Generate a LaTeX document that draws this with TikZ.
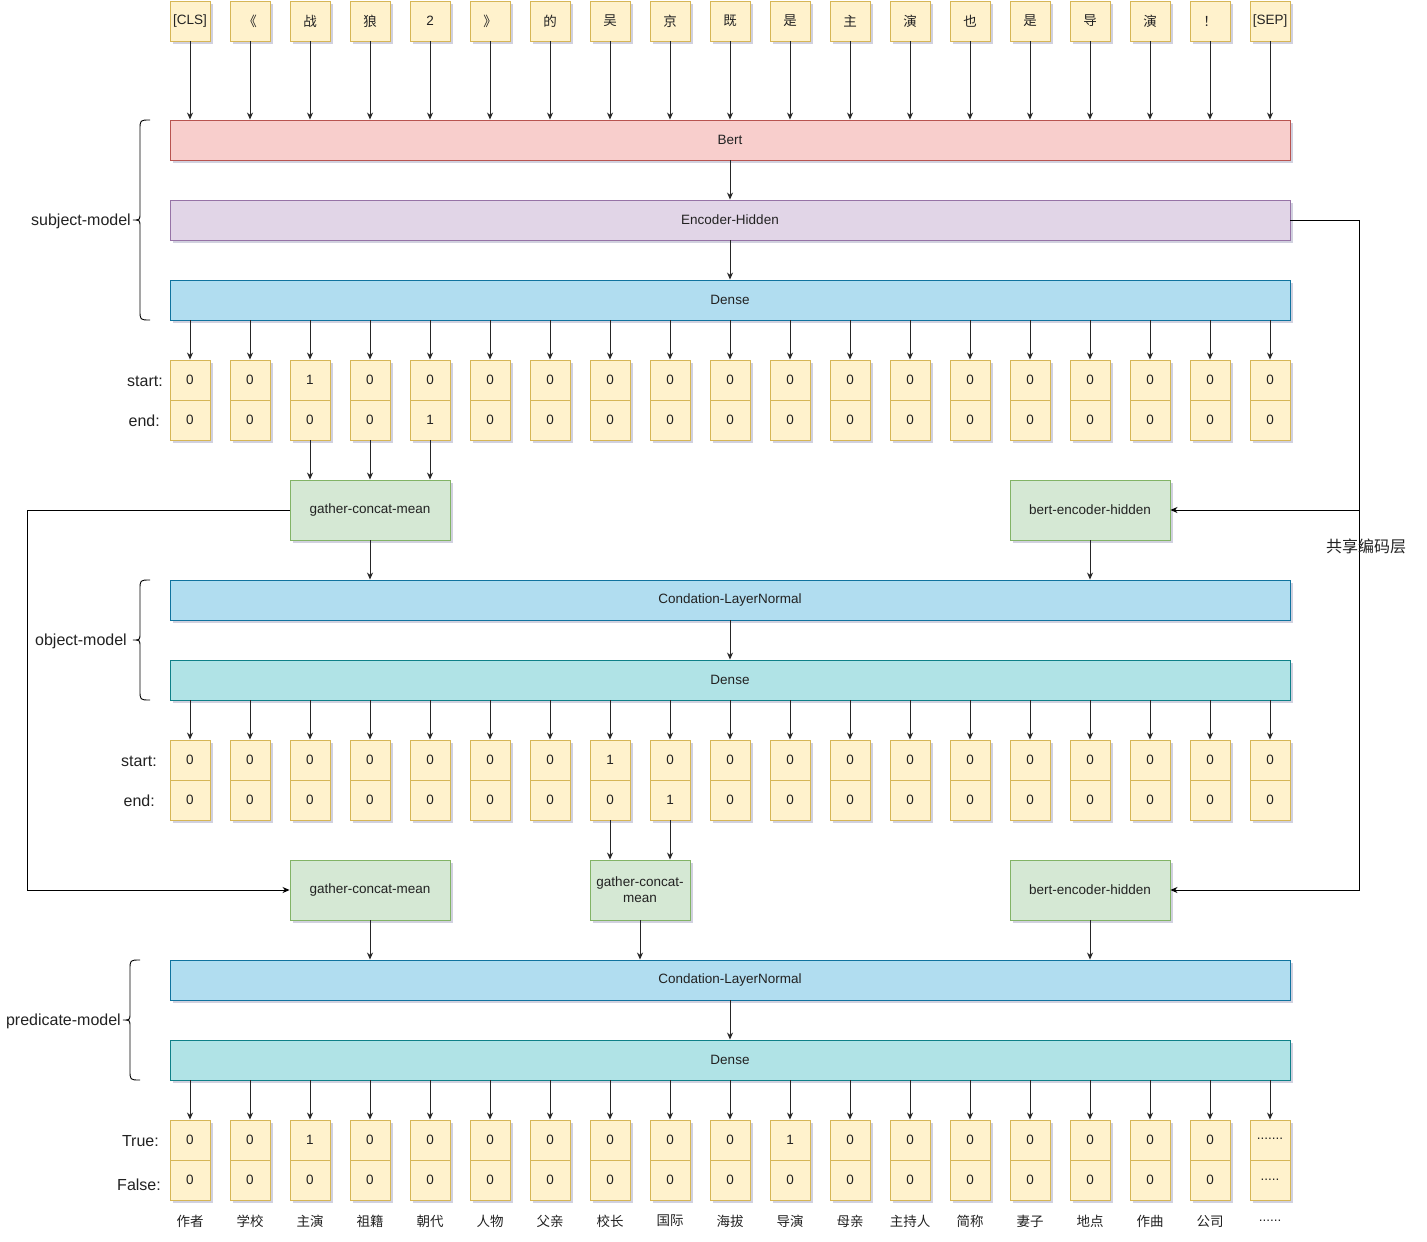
\documentclass[tikz,border=0pt]{standalone}
\usepackage{fontspec}
\setmainfont{Liberation Sans}
\newfontfamily\cjk{Noto Sans CJK SC}
\usetikzlibrary{arrows.meta,shadows}
\definecolor{yfill}{HTML}{FFF2CC}
\definecolor{ystroke}{HTML}{D6B656}
\definecolor{rfill}{HTML}{F8CECC}
\definecolor{rstroke}{HTML}{B85450}
\definecolor{pfill}{HTML}{E1D5E7}
\definecolor{pstroke}{HTML}{9673A6}
\definecolor{bfill}{HTML}{B1DDF0}
\definecolor{bstroke}{HTML}{10739E}
\definecolor{tfill}{HTML}{B0E3E6}
\definecolor{tstroke}{HTML}{0E8088}
\definecolor{gfill}{HTML}{D5E8D4}
\definecolor{gstroke}{HTML}{82B366}
\definecolor{txt}{HTML}{222222}
\tikzset{
  shad/.style={drop shadow={shadow xshift=2.5pt, shadow yshift=-2.5pt, opacity=0.18, fill=black!70!blue}},
  cellbox/.style={draw=ystroke, fill=yfill, line width=0.9pt, minimum width=40pt, minimum height=40pt, inner sep=0pt, shad},
  widebox/.style={line width=0.9pt, minimum width=1120pt, minimum height=40pt, inner sep=0pt, shad},
  greenbox/.style={draw=gstroke, fill=gfill, line width=0.9pt, minimum width=160pt, minimum height=60pt, inner sep=0pt, align=center, shad},
  arr/.style={-{Stealth[length=7pt,width=6pt]}, line width=0.9pt, draw=black!85},
  conn/.style={line width=0.9pt, draw=black},
  lbl/.style={anchor=east, inner sep=0pt, text=txt, font=\fontsize{16}{19}\selectfont},
  plain/.style={inner sep=0pt, text=txt},
}
\begin{document}
\begin{tikzpicture}[x=1pt,y=-1pt, font=\fontsize{13.5}{16}\selectfont, text=txt]
\useasboundingbox (0,0) rectangle (1427,1242);

% tokens
\foreach \t [count=\i] in {{[CLS]},{\cjk 《},{\cjk 战},{\cjk 狼},{2},{\cjk 》},{\cjk 的},{\cjk 吴},{\cjk 京},{\cjk 既},{\cjk 是},{\cjk 主},{\cjk 演},{\cjk 也},{\cjk 是},{\cjk 导},{\cjk 演},{\cjk ！},{[SEP]}}
  \node[cellbox] (t\i) at ({130+60*\i},21) {\t};

% wide layers
\node[widebox, draw=rstroke, fill=rfill] (bert) at (730,140) {Bert};
\node[widebox, draw=pstroke, fill=pfill] (enc) at (730,220) {Encoder-Hidden};
\node[widebox, draw=bstroke, fill=bfill] (dense1) at (730,300) {Dense};
\node[widebox, draw=bstroke, fill=bfill] (cln1) at (730,600) {Condation-LayerNormal};
\node[widebox, draw=tstroke, fill=tfill] (dense2) at (730,680) {Dense};
\node[widebox, draw=bstroke, fill=bfill] (cln2) at (730,980) {Condation-LayerNormal};
\node[widebox, draw=tstroke, fill=tfill] (dense3) at (730,1060) {Dense};

\foreach \i in {1,...,19} \draw[arr] (t\i) -- (t\i |- bert.north);
\draw[arr] (bert) -- (enc);
\draw[arr] (enc) -- (dense1);

% subject start/end
\foreach \s/\e [count=\i] in {0/0,0/0,1/0,0/0,0/1,0/0,0/0,0/0,0/0,0/0,0/0,0/0,0/0,0/0,0/0,0/0,0/0,0/0,0/0}{
  \node[cellbox] (sa\i) at ({130+60*\i},380) {\s};
  \node[cellbox] (ea\i) at ({130+60*\i},420) {\e};
  \draw[arr] (sa\i |- dense1.south) -- (sa\i.north);
}
\node[lbl] (lsa) at (163,381) {start:};
\node[lbl] (lea) at (160,421) {end:};

% green boxes row 1
\node[greenbox] (g1) at (370,510) {gather-concat-mean};
\node[greenbox] (beh1) at (1090,510) {bert-encoder-hidden};
\foreach \i in {3,4,5} \draw[arr] (ea\i) -- (ea\i |- g1.north);
\draw[arr] (g1) -- (g1 |- cln1.north);
\draw[arr] (beh1) -- (beh1 |- cln1.north);
\draw[arr] (cln1) -- (dense2);

% object start/end
\foreach \s/\e [count=\i] in {0/0,0/0,0/0,0/0,0/0,0/0,0/0,1/0,0/1,0/0,0/0,0/0,0/0,0/0,0/0,0/0,0/0,0/0,0/0}{
  \node[cellbox] (sb\i) at ({130+60*\i},760) {\s};
  \node[cellbox] (eb\i) at ({130+60*\i},800) {\e};
  \draw[arr] (sb\i |- dense2.south) -- (sb\i.north);
}
\node[lbl] (lsb) at (157,761) {start:};
\node[lbl] (leb) at (155,801) {end:};

% green boxes row 2
\node[greenbox] (g2) at (370,890) {gather-concat-mean};
\node[greenbox, minimum width=100pt] (g3) at (640,890) {gather-concat-\\mean};
\node[greenbox] (beh2) at (1090,890) {bert-encoder-hidden};
\draw[arr] (eb8) -- (eb8 |- g3.north);
\draw[arr] (eb9) -- (eb9 |- g3.north);
\draw[arr] (g2) -- (g2 |- cln2.north);
\draw[arr] (g3) -- (g3 |- cln2.north);
\draw[arr] (beh2) -- (beh2 |- cln2.north);
\draw[arr] (cln2) -- (dense3);

% predicate true/false
\foreach \s/\e/\n [count=\i] in {0/0/作者,0/0/学校,1/0/主演,0/0/祖籍,0/0/朝代,0/0/人物,0/0/父亲,0/0/校长,0/0/国际,0/0/海拔,1/0/导演,0/0/母亲,0/0/主持人,0/0/简称,0/0/妻子,0/0/地点,0/0/作曲,0/0/公司}{
  \node[cellbox] (sc\i) at ({130+60*\i},1140) {\s};
  \node[cellbox] (ec\i) at ({130+60*\i},1180) {\e};
  \node[plain] (nc\i) at ({130+60*\i},1221) {\cjk\n};
}
\node[cellbox] (sc19) at (1270,1140) {\raisebox{0.35ex}{.......}};
\node[cellbox] (ec19) at (1270,1180) {.....};
\node[plain] (nc19) at (1270,1221) {......};
\foreach \i in {1,...,19} \draw[arr] (sc\i |- dense3.south) -- (sc\i.north);
\node[lbl] (lsc) at (159,1141) {True:};
\node[lbl] (lec) at (161,1185) {False:};

% shared encoder connectors
\coordinate (shr) at (1359,510);
\draw[conn, -{Stealth[length=7pt,width=6pt]}] (enc.east) -| (shr) -- (beh1.east);
\draw[conn, -{Stealth[length=7pt,width=6pt]}] (shr) |- (beh2.east);
\node[plain, font=\fontsize{16}{19}\selectfont] (shl) at (1366,546) {\cjk 共享编码层};

% left connector
\coordinate (lft) at (27,510);
\draw[conn, -{Stealth[length=7pt,width=6pt]}] (g1.west) -- (lft) |- (g2.west);

% braces
\draw[conn] (150,120) .. controls (140,120) .. (140,130) -- (140,213) .. controls (140,220) .. (133,220) .. controls (140,220) .. (140,227) -- (140,310) .. controls (140,320) .. (150,320);
\node[lbl] (subj) at (131,221) {subject-model};
\draw[conn] (150,580) .. controls (140,580) .. (140,590) -- (140,633) .. controls (140,640) .. (133,640) .. controls (140,640) .. (140,647) -- (140,690) .. controls (140,700) .. (150,700);
\node[lbl] (obj) at (127,641) {object-model};
\draw[conn] (140,960) .. controls (130,960) .. (130,970) -- (130,1013) .. controls (130,1020) .. (123,1020) .. controls (130,1020) .. (130,1027) -- (130,1070) .. controls (130,1080) .. (140,1080);
\node[lbl] (pred) at (121,1021) {predicate-model};
\end{tikzpicture}
\end{document}
